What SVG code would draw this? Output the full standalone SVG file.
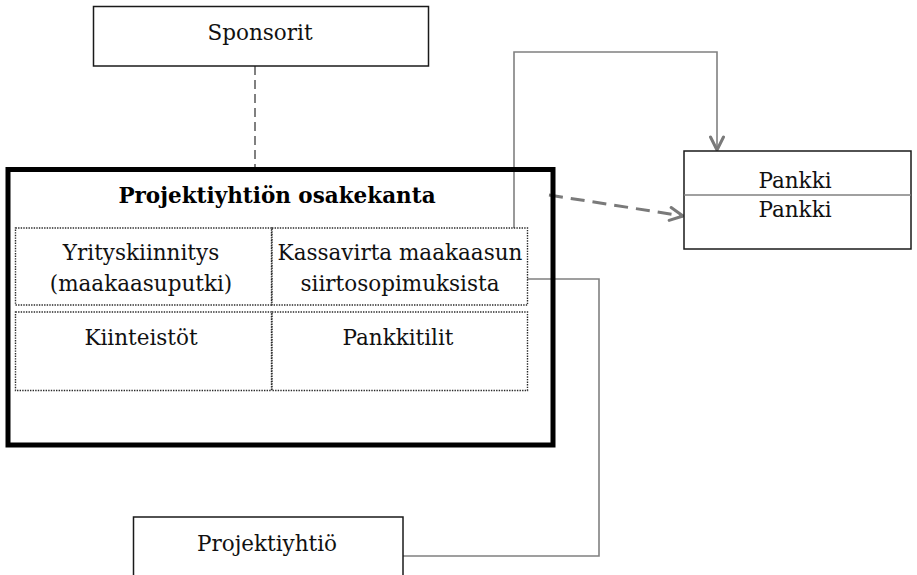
<svg xmlns="http://www.w3.org/2000/svg" width="917" height="575" viewBox="0 0 917 575">
  <style>
    .box { fill: #ffffff; stroke: #1a1a1a; stroke-width: 1.5; }
    .cell { fill: none; stroke: #2a2a2a; stroke-width: 1.4; stroke-dasharray: 1.4 1.2; }
    .lbl { font-family: "DejaVu Serif", "Liberation Serif", serif; font-size: 21.5px; fill: #111111; text-anchor: middle; }
    .title { font-family: "DejaVu Serif", "Liberation Serif", serif; font-size: 21.5px; font-weight: bold; fill: #000000; text-anchor: middle; }
    .conn { fill: none; stroke: #808080; stroke-width: 1.6; }
    .dash { fill: none; stroke: #808080; stroke-width: 2; stroke-dasharray: 9 5; }
    .dasharrow { fill: none; stroke: #7a7a7a; stroke-width: 3; stroke-dasharray: 14 8; }
  </style>
  <defs>
    <marker id="open" viewBox="0 0 16 16" refX="15" refY="8" markerWidth="16" markerHeight="16" markerUnits="userSpaceOnUse" orient="auto">
      <path d="M2,1.5 L15,8 L2,14.5" fill="none" stroke="#7a7a7a" stroke-width="3" stroke-linecap="round" stroke-linejoin="round"/>
    </marker>
  </defs>

  <rect width="917" height="575" fill="#ffffff"/>

  <!-- connectors -->
  <g id="connectors">
    <line class="dash" x1="255" y1="66" x2="255" y2="167"/>
    <polyline class="conn" points="514,228 514,52 717,52 717,150" marker-end="url(#open)"/>
    <line class="dasharrow" x1="549" y1="195" x2="683" y2="216" marker-end="url(#open)"/>
    <polyline class="conn" points="527,279 599,279 599,556 403,556"/>
  </g>

  <!-- Sponsorit -->
  <g id="sponsorit">
    <rect class="box" x="93.5" y="6.5" width="335" height="59.5"/>
    <text class="lbl" x="260" y="40">Sponsorit</text>
  </g>

  <!-- Projektiyhtiön osakekanta -->
  <g id="osakekanta">
    <rect x="8" y="169.5" width="545" height="275.5" fill="none" stroke="#000000" stroke-width="5"/>
    <text class="title" x="277" y="203">Projektiyhtiön osakekanta</text>
    <rect class="cell" x="15.5" y="228" width="256" height="77"/>
    <rect class="cell" x="272" y="228" width="255.5" height="77"/>
    <rect class="cell" x="15.5" y="312" width="256" height="78.5"/>
    <rect class="cell" x="272" y="312" width="255.5" height="78.5"/>
    <text class="lbl" x="141" y="260">Yrityskiinnitys</text>
    <text class="lbl" x="141" y="291">(maakaasuputki)</text>
    <text class="lbl" x="400" y="260">Kassavirta maakaasun</text>
    <text class="lbl" x="400" y="291">siirtosopimuksista</text>
    <text class="lbl" x="141" y="345">Kiinteistöt</text>
    <text class="lbl" x="398" y="345">Pankkitilit</text>
  </g>

  <!-- Pankki -->
  <g id="pankki">
    <rect class="box" x="684" y="151" width="227" height="98"/>
    <line x1="684" y1="195" x2="911" y2="195" stroke="#808080" stroke-width="1.3"/>
    <text class="lbl" x="795" y="188">Pankki</text>
    <text class="lbl" x="795" y="217">Pankki</text>
  </g>

  <!-- Projektiyhtiö -->
  <g id="projektiyhtio">
    <rect class="box" x="133.5" y="517" width="269.5" height="70"/>
    <text class="lbl" x="267" y="551">Projektiyhtiö</text>
  </g>
</svg>
